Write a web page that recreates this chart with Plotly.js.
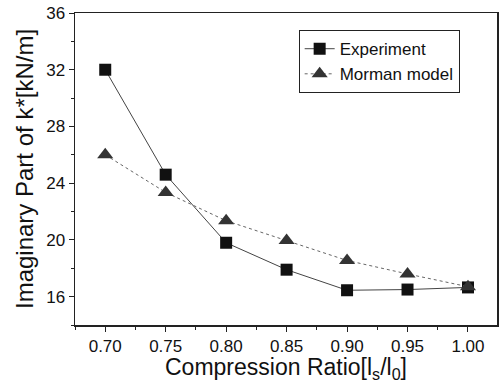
<!DOCTYPE html>
<html><head><meta charset="utf-8">
<script src="https://cdn.plot.ly/plotly-3.0.1.min.js"></script>
<style>html,body{margin:0;padding:0;background:#fff;}#chart{width:502px;height:382px;}</style>
</head><body><div id="chart"></div>
<script>
const ratios = [0.70, 0.75, 0.80, 0.85, 0.90, 0.95, 1.00];
const experiment = [32.0, 24.6, 19.8, 17.9, 16.45, 16.5, 16.65];
const morman = [26.0, 23.35, 21.35, 19.95, 18.55, 17.6, 16.7];
const xTickLabels = ['0.70','0.75','0.80','0.85','0.90','0.95','1.00'];
const yTicks = [16, 20, 24, 28, 32, 36];

const font = 'Liberation Sans, Arial, sans-serif';
const traces = [
  {x: ratios, y: experiment, name: 'Experiment', mode: 'lines+markers',
   line: {color: '#444', width: 1, dash: 'solid'},
   marker: {symbol: 'square', size: 12, color: '#111'}},
  {x: ratios, y: morman, name: 'Morman model', mode: 'lines+markers',
   line: {color: '#666', width: 1, dash: 'dot'},
   marker: {symbol: 'triangle-up', size: 14, color: '#333'}}
];
const layout = {
  width: 502, height: 382,
  margin: {l: 75, r: 5, t: 13, b: 57},
  paper_bgcolor: '#fff', plot_bgcolor: '#fff',
  font: {family: font, color: '#111', size: 18},
  showlegend: true,
  legend: {x: 0.53, y: 0.945, xanchor: 'left', yanchor: 'top',
    bordercolor: '#222', borderwidth: 1, bgcolor: '#fff',
    font: {family: font, size: 17, color: '#111'}, tracegroupgap: 0, itemwidth: 30},
  xaxis: {range: [0.675, 1.024], tickvals: ratios, ticktext: xTickLabels,
    ticks: 'outside', ticklen: 5, tickcolor: '#222', showgrid: false, zeroline: false,
    showline: true, linecolor: '#222', linewidth: 1.5, mirror: true,
    minor: {dtick: 0.025, tick0: 0.7, ticks: 'outside', ticklen: 3, tickcolor: '#222', showgrid: false},
    tickfont: {family: font, size: 17, color: '#111'}},
  yaxis: {range: [14, 36], tickvals: yTicks,
    ticks: 'outside', ticklen: 5, tickcolor: '#222', showgrid: false, zeroline: false,
    showline: true, linecolor: '#222', linewidth: 1.5, mirror: true,
    minor: {dtick: 2, tick0: 14, ticks: 'outside', ticklen: 3, tickcolor: '#222', showgrid: false},
    tickfont: {family: font, size: 17, color: '#111'},
    title: {text: 'Imaginary Part of k*[kN/m]', font: {family: font, size: 24, color: '#111'}, standoff: 6}},
  annotations: [{
    text: 'Compression Ratio[l<sub>s</sub>/l<sub>0</sub>]', xref: 'paper', yref: 'paper',
    x: 0.5, y: -0.085, xanchor: 'center', yanchor: 'top', showarrow: false,
    font: {family: font, size: 23, color: '#111'}
  }]
};
Plotly.newPlot('chart', traces, layout, {displayModeBar: false, staticPlot: true});
</script></body></html>
